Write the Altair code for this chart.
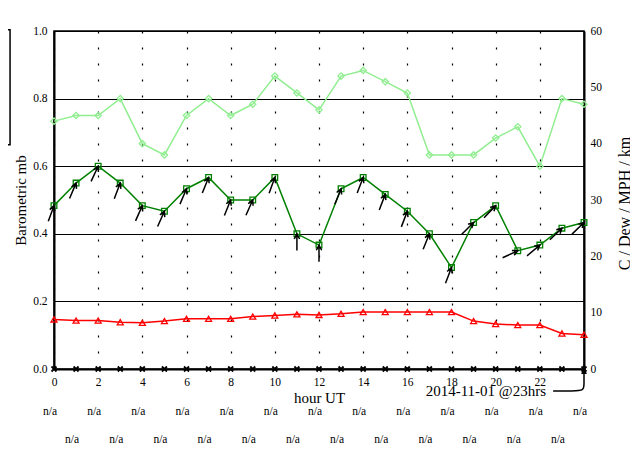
import altair as alt
import pandas as pd

# ---------------- data ----------------
hours = list(range(25))
light_green = [44, 45, 45, 48, 40, 38, 45, 48, 45, 47, 52, 49, 46,
               52, 53, 51, 49, 38, 38, 38, 41, 43, 36, 48, 47]
dark_green = [29, 33, 36, 33, 29, 28, 32, 34, 30, 30, 34, 24, 22,
              32, 34, 31, 28, 24, 18, 26, 29, 21, 22, 25, 26]
red_vals = [8.8, 8.6, 8.6, 8.3, 8.2, 8.5, 8.9, 8.9, 8.9, 9.3, 9.5, 9.7, 9.6,
            9.8, 10.1, 10.1, 10.1, 10.1, 10.1, 8.5, 8.0, 7.8, 7.8, 6.3, 6.1]
base_vals = [0] * 25
wind_dir = [20, 23, 25, 21, 24, 24, 23, 22, 22, 24, 20, 0, 0,
            22, 21, 21, 21, 22, 21, 45, 44, 65, 50, 46, 46]
na_labels = ["n/a"] * 25

x_tick_values = list(range(0, 23, 2))
left_ticks = [0.0, 0.2, 0.4, 0.6, 0.8, 1.0]
right_ticks = [0, 10, 20, 30, 40, 50, 60]

title_text = "Site ID=3041 Name=Aonach Mor 56.822,-4.97 1130.0m"
stamp_text = ["2014-11-01 @23hrs"]
stamp_hour = [24]
stamp_val = [0]

# connector from the time stamp to the marker (hour, value units)
conn_h = [22.6, 23.5, 24.0, 24.0, 24.0]
conn_v = [-3.9, -3.9, -3.9, -2.6, -0.9]

# clipped legend frame at the far left (hour, value units)
box_h = [-4.0]
box_h2 = [-1.99]
box_v = [60.2]
box_v2 = [39.8]

FONT = "Liberation Serif"

df = pd.DataFrame({
    "h": hours, "lg": light_green, "dg": dark_green, "rd": red_vals,
    "bs": base_vals, "dir": wind_dir, "na": na_labels,
})
df_stamp = pd.DataFrame({"h": stamp_hour, "v": stamp_val, "t": stamp_text})
df_conn = pd.DataFrame({"h": conn_h, "v": conn_v, "i": list(range(len(conn_h)))})
df_box = pd.DataFrame({"h": box_h, "h2": box_h2, "v": box_v, "v2": box_v2})
df_left = pd.DataFrame({"h": [0, 24], "b": [0.0, 1.0]})

# ---------------- scales / axes ----------------
xscale = alt.Scale(domain=[0, 24], nice=False, zero=False)
xaxis = alt.Axis(values=x_tick_values, grid=True, gridDash=[2, 14],
                 gridColor="black", gridWidth=1.2, ticks=False,
                 domainColor="black", domainWidth=2, labelFontSize=11.5,
                 labelColor="black", labelPadding=7, labelFlush=False,
                 title="hour UT", titleFontSize=15, titleFontWeight="normal",
                 titleColor="black", titlePadding=3)

yscale = alt.Scale(domain=[0, 60], nice=False, zero=False)
yaxis = alt.Axis(orient="right", values=right_ticks, format="d", grid=False,
                 ticks=False, domainColor="black", domainWidth=2,
                 labelFontSize=11.5, labelColor="black", labelPadding=6,
                 title="C / Dew / MPH / km", titleFontSize=16,
                 titleFontWeight="normal", titleColor="black", titleAngle=270,
                 titleX=40, titleY=172, titleBaseline="middle",
                 titleAlign="center")


def X(f="h"):
    return alt.X(f"{f}:Q", scale=xscale, axis=xaxis)


def Y(f):
    return alt.Y(f"{f}:Q", scale=yscale, axis=yaxis)


left = alt.Chart(df_left).mark_point(opacity=0).encode(
    x=X(),
    y=alt.Y("b:Q", scale=alt.Scale(domain=[0, 1], nice=False, zero=False),
            axis=alt.Axis(orient="left", values=left_ticks, format=".1f",
                          grid=True, gridColor="black", gridWidth=1,
                          ticks=False, domainColor="black", domainWidth=2,
                          labelFontSize=11.5, labelColor="black",
                          labelPadding=7, title="Barometric mb",
                          titleFontSize=15, titleFontWeight="normal",
                          titleColor="black", titleAngle=270, titleX=-34,
                          titleY=169, titleBaseline="middle",
                          titleAlign="center")),
)

base = alt.Chart(df)

box = alt.Chart(df_box).mark_rect(fill="transparent", stroke="black",
                                  strokeWidth=1.5).encode(
    x=X(), x2="h2:Q", y=Y("v"), y2="v2:Q")

lg_line = base.mark_line(color="#90ee90", strokeWidth=1.5).encode(x=X(), y=Y("lg"))
lg_pts = base.mark_point(shape="diamond", size=40, color="#90ee90",
                         strokeWidth=1.3, filled=False, opacity=1).encode(x=X(), y=Y("lg"))

rd_line = base.mark_line(color="#ff0000", strokeWidth=1.5).encode(x=X(), y=Y("rd"))
rd_pts = base.mark_point(shape="triangle-up", size=36, color="#ff0000",
                         strokeWidth=1.3, filled=False, opacity=1).encode(x=X(), y=Y("rd"))

dg_line = base.mark_line(color="#008000", strokeWidth=1.5).encode(x=X(), y=Y("dg"))
dg_pts = base.mark_point(shape="square", size=32, color="#008000",
                         strokeWidth=1.3, filled=False, opacity=1).encode(x=X(), y=Y("dg"))

arrow_path = "M0,0L0,2M-0.32,0.62L0,0L0.32,0.62"
arrows = base.mark_point(shape=arrow_path, size=279, color="black",
                         strokeWidth=1.5, filled=False, opacity=1).encode(
    x=X(), y=Y("dg"), angle=alt.Angle("dir:Q", scale=None))

xmarks = base.mark_point(shape="M-1,-1L1,1M-1,1L1,-1", size=25, color="black",
                         strokeWidth=1.8, filled=False, opacity=1).encode(x=X(), y=Y("bs"))

tri = alt.Chart(df_stamp).mark_point(shape="M0,-1L0.55,1L-0.55,1Z", size=100,
                                     color="black", filled=True, opacity=1).encode(
    x=X(), y=Y("v"))

conn = alt.Chart(df_conn).mark_line(color="black", strokeWidth=1.5,
                                    interpolate="basis").encode(
    x=X(), y=Y("v"), order="i:Q")

stamp = alt.Chart(df_stamp).mark_text(font=FONT, fontSize=15, align="right",
                                      baseline="middle", dx=-38, color="black").encode(
    x=X(), y=alt.value(360), text="t:N")

na_even = base.transform_filter("datum.h % 2 == 0").mark_text(
    font=FONT, fontSize=11.5, align="center", baseline="middle", dx=-4,
    color="black").encode(x=X(), y=alt.value(380.7), text="na:N")
na_odd = base.transform_filter("datum.h % 2 == 1").mark_text(
    font=FONT, fontSize=11.5, align="center", baseline="middle", dx=-4,
    color="black").encode(x=X(), y=alt.value(409.2), text="na:N")

right = alt.layer(box, lg_line, lg_pts, rd_line, rd_pts, dg_line, dg_pts,
                  arrows, xmarks, conn, tri, stamp, na_even, na_odd)

chart = alt.layer(left, right).resolve_scale(y="independent").properties(
    width=530, height=338,
    autosize="none",
    padding={"left": 46, "top": 23, "right": 46, "bottom": 75},
    title=alt.TitleParams(title_text, fontSize=17.5, font=FONT,
                          fontWeight="normal", anchor="middle", offset=11,
                          baseline="alphabetic", color="black"),
).configure(font=FONT).configure_view(stroke="black", strokeWidth=1.5)

chart.save("out.html", embed_options={"renderer": "svg", "actions": False})
